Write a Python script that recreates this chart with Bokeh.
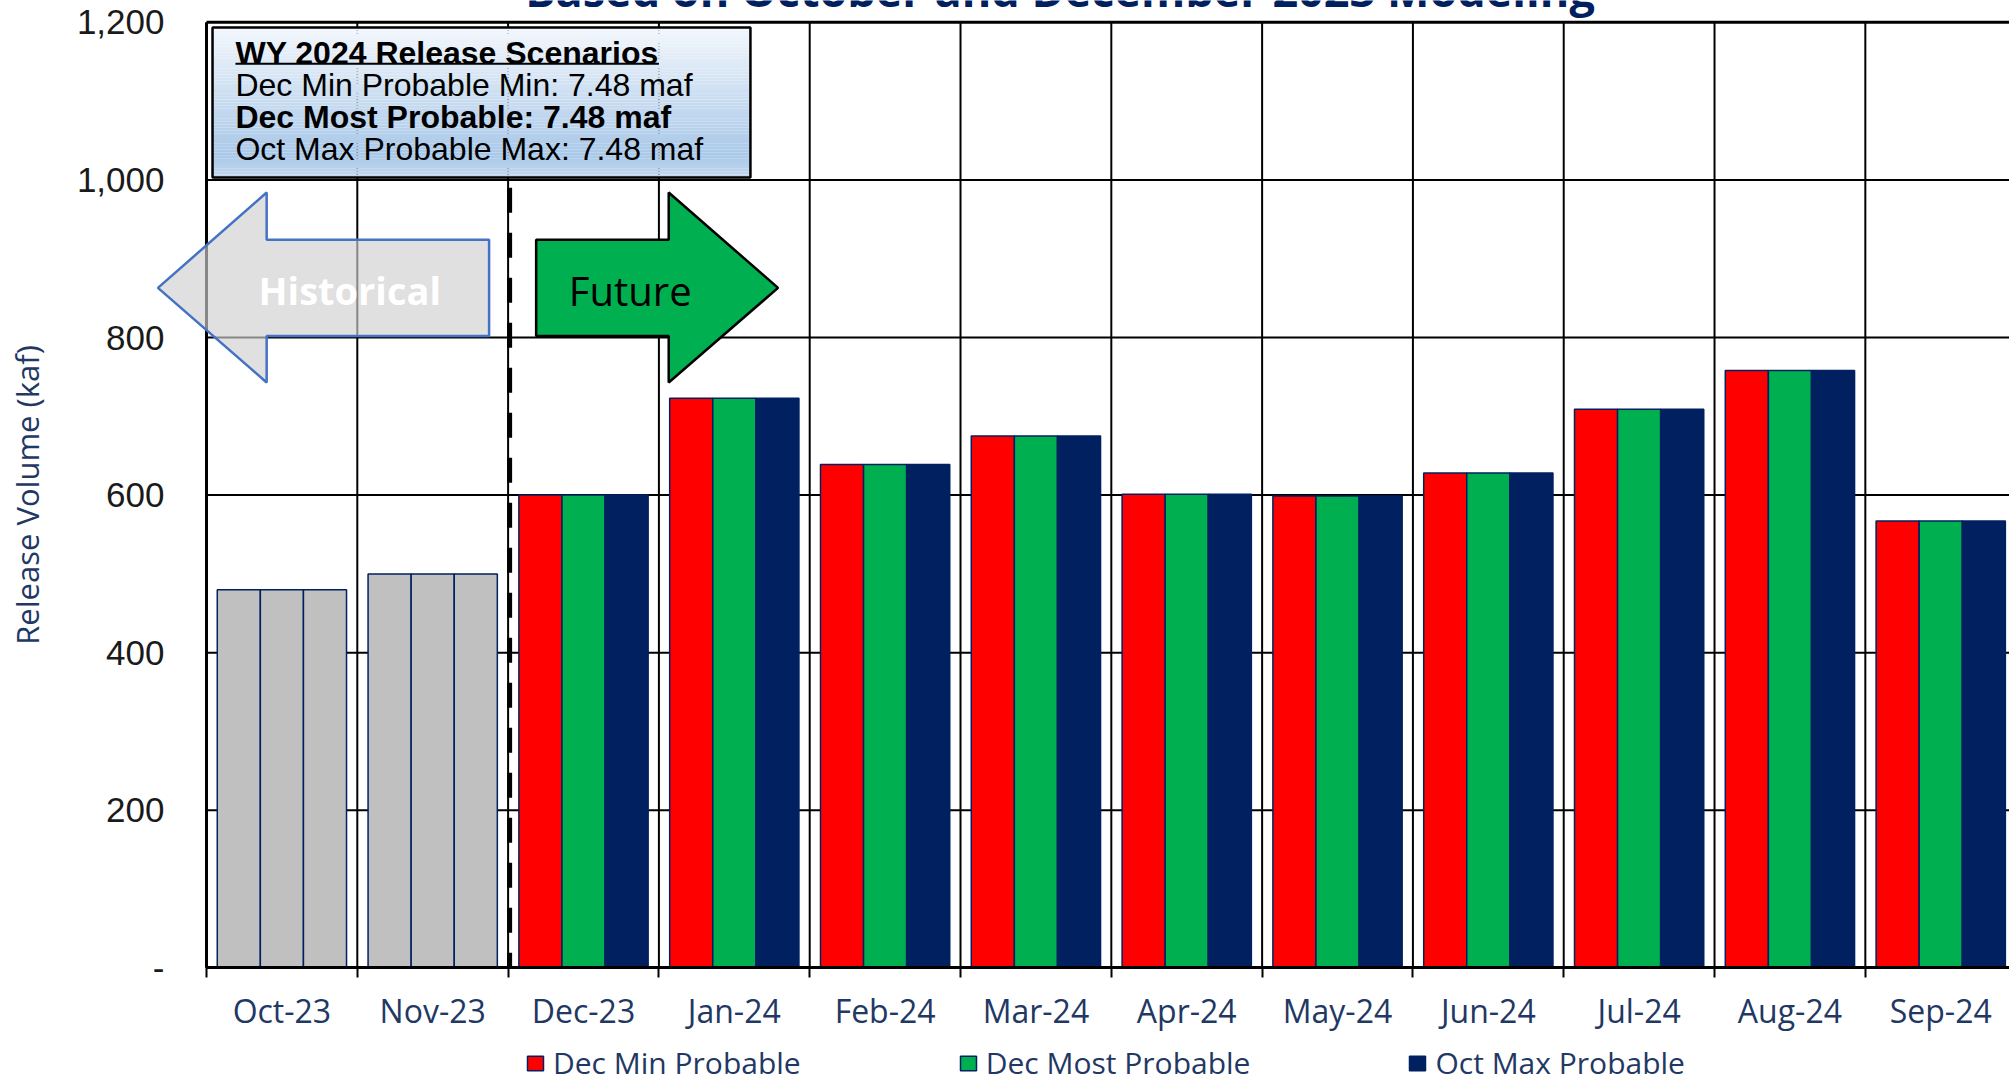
import numpy as np
from bokeh.plotting import figure
from bokeh.models import (Range1d, FixedTicker, NumeralTickFormatter, Legend, LegendItem,
                          Label, PolyAnnotation, ColumnDataSource)
from bokeh.embed import file_html
from bokeh.resources import INLINE

# ---------------- data ----------------
months = ["Oct-23", "Nov-23", "Dec-23", "Jan-24", "Feb-24", "Mar-24",
          "Apr-24", "May-24", "Jun-24", "Jul-24", "Aug-24", "Sep-24"]
historical = ["Oct-23", "Nov-23"]
dec_min = [480, 500, 600, 723, 639, 675, 601, 599, 628, 709, 758, 567]
dec_most = [480, 500, 600, 723, 639, 675, 601, 599, 628, 709, 758, 567]
oct_max = [480, 500, 600, 723, 639, 675, 601, 599, 628, 709, 758, 567]
series_names = ["Dec Min Probable", "Dec Most Probable", "Oct Max Probable"]
series_values = [dec_min, dec_most, oct_max]
series_colors = ["#FF0000", "#00B050", "#002060"]
hist_color = "#C0C0C0"
y_ticks = [0, 200, 400, 600, 800, 1000, 1200]
box_title = "WY 2024 Release Scenarios"
box_lines = [("Dec Min Probable Min: 7.48 maf", "normal"),
             ("Dec Most Probable: 7.48 maf", "bold"),
             ("Oct Max Probable Max: 7.48 maf", "normal")]
chart_title = "Based on October and December 2023 Modeling"

NAVY = "#002060"
TXT = "#1F3864"
n = len(months)
X_END = 11.956
Y_TOP = 1200

p = figure(width=2009, height=1083, output_backend="svg", toolbar_location=None,
           x_range=Range1d(-1.366, X_END), y_range=Range1d(-146.7, 1227.7),
           min_border_left=0, min_border_right=0, min_border_top=0, min_border_bottom=0)
p.background_fill_color = "white"
p.border_fill_color = "white"
p.outline_line_color = None
p.xgrid.visible = False
p.ygrid.visible = False

# grid lines (drawn from the tick arrays, limited to the plot area)
bounds = list(range(n + 1))
p.segment(x0=bounds, y0=0, x1=bounds, y1=Y_TOP, line_color="black", line_width=2)
p.segment(x0=0, y0=y_ticks, x1=X_END + 1, y1=y_ticks, line_color="black",
          line_width=[2] * (len(y_ticks) - 1) + [3])

# bars
centers = np.arange(n) + 0.5
bw = 1 / 3.5
items = []
for k, (name, vals, col) in enumerate(zip(series_names, series_values, series_colors)):
    colors = [hist_color if m in historical else col for m in months]
    src = ColumnDataSource(dict(x=centers + (k - 1) * bw, top=vals, color=colors))
    r = p.vbar(x="x", top="top", bottom=0, width=bw, fill_color="color",
               line_color=NAVY, line_width=1.5, source=src)
    items.append(LegendItem(label=name, renderers=[r], index=len(historical)))

# dashed divider between historical and future
p.segment(x0=len(historical) + 0.01, y0=990, x1=len(historical) + 0.01, y1=0,
          line_color="black", line_width=5, line_dash="25 20")

# arrows
p.add_layout(PolyAnnotation(xs=[-0.322, 0.399, 0.399, 1.874, 1.874, 0.399, 0.399],
                            ys=[863, 984, 924, 924, 802, 802, 743],
                            fill_color="#D0D0D0", fill_alpha=0.65,
                            line_color="#4472C4", line_alpha=1.0, line_width=2.5))
p.add_layout(PolyAnnotation(xs=[2.186, 3.065, 3.065, 3.79, 3.065, 3.065, 2.186],
                            ys=[924, 924, 984, 863, 743, 802, 802],
                            fill_color="#00B050", fill_alpha=1.0,
                            line_color="black", line_alpha=1.0, line_width=2.5))
p.add_layout(Label(x=0.95, y=860, text="Historical", text_align="center", text_baseline="middle",
                   text_font="Open Sans", text_font_size="38px", text_font_style="bold",
                   text_color="white"))
p.add_layout(Label(x=2.81, y=860, text="Future", text_align="center", text_baseline="middle",
                   text_font="Open Sans", text_font_size="40px", text_color="black"))

# scenario box with vertical gradient
bx0, bx1, by0, by1 = 0.04, 3.607, 1003, 1193.4
N = 48
edges = np.linspace(by1, by0, N + 1)
stops = [(0.0, (0xF3, 0xF7, 0xFC)), (0.85, (0xA9, 0xC8, 0xE8)), (1.0, (0xC4, 0xD8, 0xEE))]
def grad(t):
    for (t0, c0), (t1, c1) in zip(stops[:-1], stops[1:]):
        if t <= t1:
            f = (t - t0) / (t1 - t0)
            return "#%02x%02x%02x" % tuple(int(round(a + (b - a) * f)) for a, b in zip(c0, c1))
    return "#%02x%02x%02x" % stops[-1][1]
gcols = [grad((i + 0.5) / N) for i in range(N)]
p.quad(left=bx0, right=bx1, top=edges[:-1], bottom=edges[1:], fill_color=gcols, line_color=None)
p.quad(left=bx0, right=bx1, top=by1, bottom=by0, fill_color=None, line_color="black", line_width=2.5)

tx = 0.192
p.add_layout(Label(x=tx, y=1161.1, text=box_title, text_font="Liberation Sans", text_font_size="32px",
                   text_font_style="bold", text_color="black", text_baseline="middle"))
p.segment(x0=tx, y0=1147.5, x1=3.0, y1=1147.5, line_color="black", line_width=2)
for (txt, style), yy in zip(box_lines, [1120.3, 1079.7, 1039.1]):
    p.add_layout(Label(x=tx, y=yy, text=txt, text_font="Liberation Sans", text_font_size="32px",
                       text_font_style=style, text_color="black", text_baseline="middle"))

# chart title (cut off at the top edge, as in the reference)
p.add_layout(Label(x=5.66, y=1241.6, text=chart_title, text_align="center", text_baseline="middle",
                   text_font="Open Sans", text_font_size="45px", text_font_style="bold",
                   text_color=NAVY))

# axes (fixed at the data origin)
xa = p.xaxis[0]
xa.fixed_location = 0
xa.bounds = (0, X_END)
xa.ticker = FixedTicker(ticks=list(centers), minor_ticks=bounds)
xa.major_label_overrides = {float(c): m for c, m in zip(centers, months)}
xa.major_tick_out = 0
xa.major_tick_in = 0
xa.minor_tick_out = 10
xa.minor_tick_in = 0
xa.minor_tick_line_color = "black"
xa.minor_tick_line_width = 2
xa.axis_line_color = "black"
xa.axis_line_width = 3
xa.major_label_standoff = 11
xa.major_label_text_font = "Open Sans"
xa.major_label_text_font_size = "32px"
xa.major_label_text_color = TXT

ya = p.yaxis[0]
ya.fixed_location = 0
ya.bounds = (0, Y_TOP)
ya.ticker = FixedTicker(ticks=y_ticks)
ya.formatter = NumeralTickFormatter(format="0,0")
ya.major_label_overrides = {0: "-"}
ya.major_tick_out = 0
ya.major_tick_in = 0
ya.minor_tick_out = 0
ya.minor_tick_in = 0
ya.axis_line_color = "black"
ya.axis_line_width = 3
ya.major_label_standoff = 42
ya.major_label_text_font = "Liberation Sans"
ya.major_label_text_font_size = "35px"
ya.major_label_text_color = "#1a1a1a"
ya.axis_label = "Release Volume (kaf)"
ya.axis_label_text_font = "Open Sans"
ya.axis_label_text_font_size = "31px"
ya.axis_label_text_font_style = "normal"
ya.axis_label_text_color = TXT
ya.axis_label_standoff = 26

# legend
legend = Legend(items=items, location=(525, 0), orientation="horizontal", spacing=157,
                glyph_width=20, glyph_height=18, label_standoff=8, padding=0, margin=0,
                label_text_font="Open Sans", label_text_font_size="30px", label_text_color=TXT,
                background_fill_alpha=0, border_line_alpha=0)
p.add_layout(legend)

open("out.html", "w").write(file_html(p, INLINE))
